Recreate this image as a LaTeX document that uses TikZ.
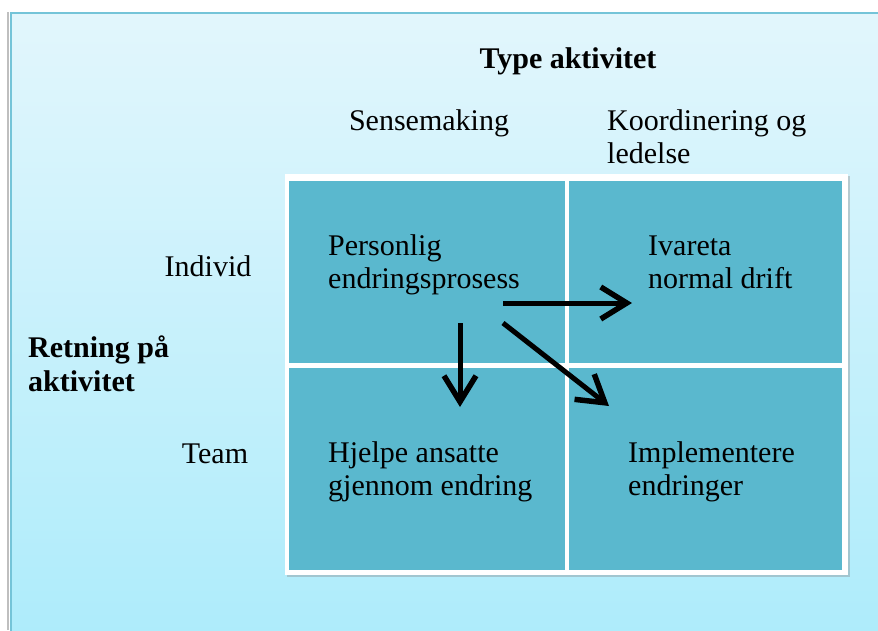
\documentclass[tikz,border=0pt]{standalone}
\usepackage{fontspec}
\setmainfont{Liberation Serif}
\usetikzlibrary{arrows.meta,shadows}
\definecolor{cellteal}{HTML}{5AB8CE}
\definecolor{paneltop}{HTML}{E2F6FC}
\definecolor{panelbot}{HTML}{AEECFB}
\definecolor{panelrim}{HTML}{74C4D8}
\newcommand\cellstack[1]{\begin{tabular}[t]{@{}l@{}}#1\end{tabular}}
\begin{document}
\begin{tikzpicture}[x=1pt,y=-1pt,
  txt/.style={font=\fontsize{30}{33}\selectfont, inner sep=0pt},
  boldtxt/.style={txt, font=\fontsize{30}{34}\selectfont\bfseries},
  cell/.style={fill=cellteal, draw=none},
  arr/.style={line width=5pt, -{Straight Barb[length=26pt,width=32pt,line width=5.5pt]}}
]
\useasboundingbox (0,0) rectangle (878,630);
\fill[white] (0,0) rectangle (878,630);

% background panel
\draw[black!25, line width=1.5pt] (8,630) -- (8,12);
\shade[top color=paneltop, bottom color=panelbot] (10,12) rectangle (880,632);
\draw[panelrim, line width=2pt] (11,632) -- (11,13) -- (880,13);

% matrix frame and cells
\node[fill=white, drop shadow={shadow xshift=2pt, shadow yshift=-2pt, opacity=0.35},
      minimum width=563pt, minimum height=401pt, inner sep=0pt, anchor=north west]
      (frame) at (285,174) {};
\fill[cell] (289,181) rectangle (565,363);
\fill[cell] (569,181) rectangle (842,363);
\fill[cell] (289,368) rectangle (565,570);
\fill[cell] (569,368) rectangle (842,570);

% axis titles
\node[boldtxt, anchor=base] (typeakt) at (568,68) {Type aktivitet};
\node[boldtxt, anchor=base west] (retning) at (28,357) {\cellstack{Retning på\\aktivitet}};

% column and row headings
\node[txt, anchor=base] (sense) at (429,130) {Sensemaking};
\node[txt, anchor=base west] (koord) at (607,130) {\cellstack{Koordinering og\\ledelse}};
\node[txt, anchor=base] (individ) at (208,276) {Individ};
\node[txt, anchor=base] (team) at (215,463) {Team};

% cell texts
\node[txt, anchor=base west] (personlig) at (328,255) {\cellstack{Personlig\\endringsprosess}};
\node[txt, anchor=base west] (ivareta) at (648,255) {\cellstack{Ivareta\\normal drift}};
\node[txt, anchor=base west] (hjelpe) at (328,462) {\cellstack{Hjelpe ansatte\\gjennom endring}};
\node[txt, anchor=base west] (impl) at (628,462) {\cellstack{Implementere\\endringer}};

% arrows
\coordinate (hstart) at (503,303);
\coordinate (hend) at (632,303);
\coordinate (vstart) at (460,323);
\coordinate (vend) at (460,407);
\coordinate (dstart) at (503,323);
\coordinate (dend) at (609,406);
\draw[arr] (hstart) -- (hend);
\draw[arr] (vstart) -- (vend);
\draw[arr] (dstart) -- (dend);
\end{tikzpicture}
\end{document}
